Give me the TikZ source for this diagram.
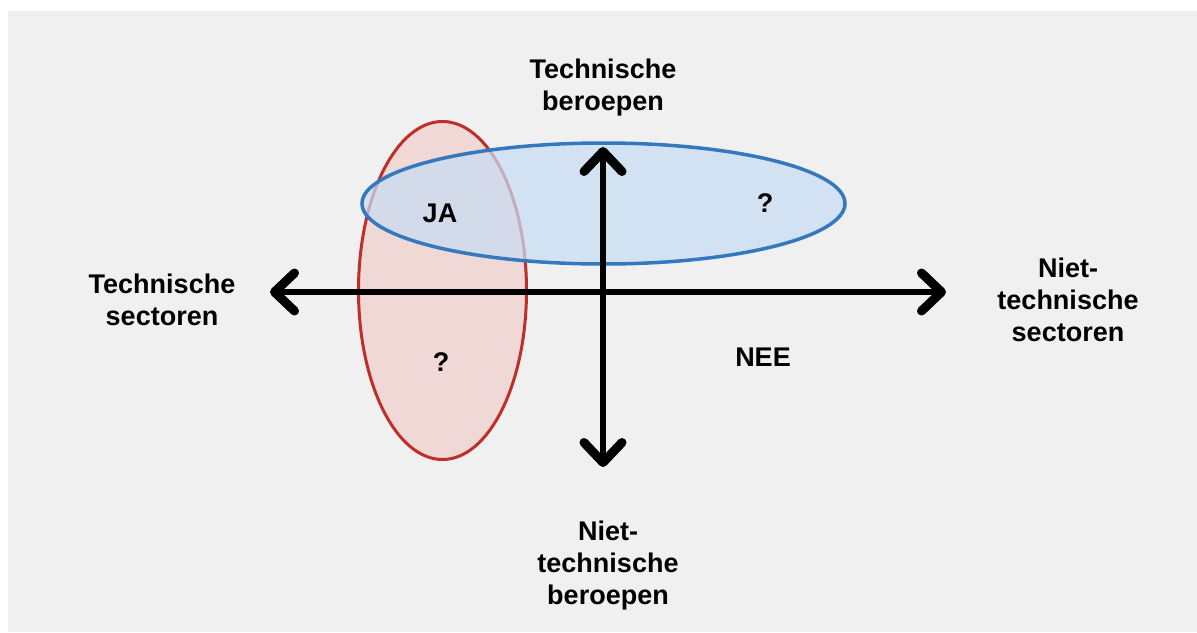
\documentclass[tikz,border=0pt]{standalone}
\usepackage{fontspec}
\setmainfont{Liberation Sans}
\usetikzlibrary{arrows.meta}
\definecolor{bgpanel}{HTML}{F0F0F0}
\definecolor{redline}{HTML}{BE2F2A}
\definecolor{redfill}{HTML}{F0D8D6}
\definecolor{blueline}{HTML}{3479BE}
\definecolor{bluefill}{HTML}{C9DDF4}
\tikzset{
  barb/.tip={Straight Barb[length=20pt, width=38pt, round, line width=9pt]},
  axis/.style={line width=6.5pt, barb-barb},
  lbl/.style={font=\bfseries\fontsize{27}{32}\selectfont, align=center, text=black, inner sep=0pt},
  qmark/.style={font=\bfseries\fontsize{27}{30}\selectfont, text=black, inner sep=0pt},
}
\begin{document}
\begin{tikzpicture}[x=1pt, y=1pt]
  \useasboundingbox (0,0) rectangle (1197,-632);
  \fill[white] (0,0) rectangle (1197,-632);
  \fill[bgpanel] (8,-11) rectangle (1197,-632);

  % the two sets
  \filldraw[fill=redfill, draw=redline, line width=3pt] (442.5,-290.5) ellipse [x radius=84, y radius=169];
  \fill[bluefill, opacity=0.72] (603.5,-203.5) ellipse [x radius=241.5, y radius=60.5];
  \draw[blueline, line width=3.5pt] (603.5,-203.5) ellipse [x radius=241.5, y radius=60.5];

  % axis end points
  \coordinate (west) at (270,-292);
  \coordinate (east) at (946,-292);
  \coordinate (north) at (603,-147);
  \coordinate (south) at (603,-467);

  \draw[axis] (west) -- (east);
  \draw[axis] (south) -- (north);

  % axis labels
  \node[lbl] (top) at (603,-88) {Technische\\beroepen};
  \node[lbl] (left) at (162,-300) {Technische\\sectoren};
  \node[lbl] (right) at (1068,-300) {Niet-\\technische\\sectoren};
  \node[lbl] (bottom) at (608,-566) {Niet-\\technische\\beroepen};

  % quadrant marks
  \node[qmark] (ja) at (440,-213) {JA};
  \node[qmark] (q1) at (765,-203) {?};
  \node[qmark] (q2) at (441,-362) {?};
  \node[qmark] (nee) at (763,-357) {NEE};
\end{tikzpicture}
\end{document}
